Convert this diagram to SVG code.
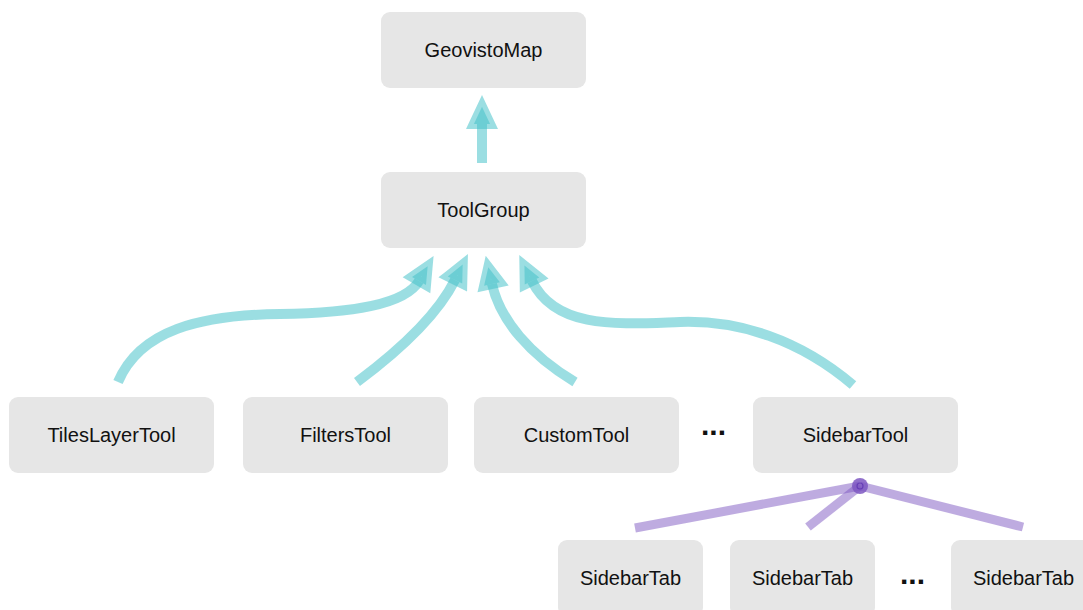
<svg xmlns="http://www.w3.org/2000/svg" width="1083" height="610" viewBox="0 0 1083 610">
<style>
.node rect{fill:#e6e6e6;}
.node text{font-family:"Liberation Sans",Arial,sans-serif;font-size:20px;fill:#111;text-anchor:middle;}
.dots{font-family:"Liberation Sans",Arial,sans-serif;font-size:30px;font-weight:bold;fill:#111;text-anchor:middle;}
.ext{fill:none;stroke:#42c1c8;stroke-opacity:0.53;stroke-width:10;}
.comp{fill:none;stroke:#7e57c2;stroke-opacity:0.5;stroke-width:9;}
</style>
<defs>
<marker id="ah" markerUnits="userSpaceOnUse" orient="auto" refX="5" refY="0" markerWidth="60" markerHeight="60" overflow="visible">
<path d="M5,-8.1 L22.2,0 L5,8.1 Z" fill="#42c1c8" fill-opacity="0.53" stroke="#42c1c8" stroke-opacity="0.53" stroke-width="10" stroke-linejoin="miter"/>
</marker>
</defs>
<g id="connectors">
<path class="ext" d="M482,163 L482,124" marker-end="url(#ah)"/>
<path class="ext" d="M118,382 C140,330 200,315 280,314 C350,313 405,305 419,281" marker-end="url(#ah)"/>
<path class="ext" d="M357,382 C400,350 437,316 455,280" marker-end="url(#ah)"/>
<path class="ext" d="M575,382 C530,355 500,320 492,284" marker-end="url(#ah)"/>
<path class="ext" d="M853,385 C800,340 740,320 680,322 C620,324 556,330 532,281" marker-end="url(#ah)"/>
<path class="comp" d="M860,486 L635,528"/>
<path class="comp" d="M860,486 L808,527"/>
<path class="comp" d="M860,486 L1023,527"/>
<circle cx="860" cy="486" r="8" fill="#7e57c2" fill-opacity="0.85"/>
<circle cx="860" cy="486" r="3" fill="none" stroke="#5e35b1" stroke-width="1.2" stroke-opacity="0.8"/>
</g>
<g id="GeovistoMap" class="node"><rect x="381" y="12" width="205" height="76" rx="9"/><text x="483.5" y="57">GeovistoMap</text></g>
<g id="ToolGroup" class="node"><rect x="381" y="172" width="205" height="76" rx="9"/><text x="483.5" y="217">ToolGroup</text></g>
<g id="TilesLayerTool" class="node"><rect x="9" y="397" width="205" height="76" rx="9"/><text x="111.5" y="442">TilesLayerTool</text></g>
<g id="FiltersTool" class="node"><rect x="243" y="397" width="205" height="76" rx="9"/><text x="345.5" y="442">FiltersTool</text></g>
<g id="CustomTool" class="node"><rect x="474" y="397" width="205" height="76" rx="9"/><text x="576.5" y="442">CustomTool</text></g>
<g id="SidebarTool" class="node"><rect x="753" y="397" width="205" height="76" rx="9"/><text x="855.5" y="442">SidebarTool</text></g>
<g id="SidebarTab1" class="node"><rect x="558" y="540" width="145" height="76" rx="9"/><text x="630.5" y="585">SidebarTab</text></g>
<g id="SidebarTab2" class="node"><rect x="730" y="540" width="145" height="76" rx="9"/><text x="802.5" y="585">SidebarTab</text></g>
<g id="SidebarTab3" class="node"><rect x="951" y="540" width="145" height="76" rx="9"/><text x="1023.5" y="585">SidebarTab</text></g>
<text class="dots" x="713.5" y="434.5">...</text>
<text class="dots" x="912.5" y="584">...</text>
</svg>
